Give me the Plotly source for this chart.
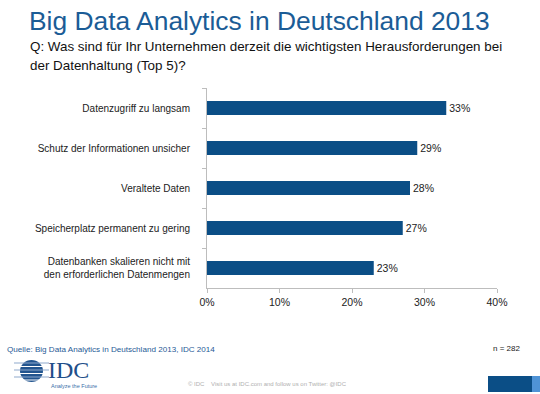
import plotly.graph_objects as go

categories = [
    "Datenzugriff zu langsam",
    "Schutz der Informationen unsicher",
    "Veraltete Daten",
    "Speicherplatz permanent zu gering",
    "Datenbanken skalieren nicht mit<br>den erforderlichen Datenmengen",
]
values = [33, 29, 28, 27, 23]
x_ticks = [0, 10, 20, 30, 40]
x_tick_labels = ["0%", "10%", "20%", "30%", "40%"]

W, H = 540, 394
ML, MR, MT, MB = 207, 43, 88, 106
PW, PH = W - ML - MR, H - MT - MB
BAR = "#0B4E86"
FONT = "Liberation Sans, Arial, sans-serif"
SERIF = "Liberation Serif"

fig = go.Figure()
fig.add_trace(go.Bar(
    x=values, y=categories, orientation="h",
    marker=dict(color=BAR, line=dict(width=0)),
    text=[f"{v}%" for v in values], textposition="outside",
    textfont=dict(size=10.5, color="#222222", family=FONT),
    cliponaxis=False, hoverinfo="skip",
))

def px(x):
    return (x - ML) / PW

def py(y):
    return (H - MB - y) / PH

def note(text, x, y, xanchor, size, color, family=FONT):
    return dict(text=text, x=px(x), y=py(y), xref="paper", yref="paper",
                xanchor=xanchor, yanchor="middle", showarrow=False,
                font=dict(size=size, color=color, family=family))

ann = [
    note("Big Data Analytics in Deutschland 2013", 27, 21, "left", 26.4, "#1B5C96"),
    note("Q: Was sind für Ihr Unternehmen derzeit die wichtigsten Herausforderungen bei",
         28, 47, "left", 13.4, "#111111"),
    note("der Datenhaltung (Top 5)?", 28, 66, "left", 13.4, "#111111"),
    note("Quelle: Big Data Analytics in Deutschland 2013, IDC 2014", 5, 349, "left", 8.1, "#1F5A96"),
    note("n = 282", 522, 348, "right", 8, "#222222"),
    note("IDC", 46, 370, "left", 24, "#1F4F8A", SERIF),
    note("Analyze the Future", 49, 386, "left", 5.5, "#3A6EA8"),
    note("© IDC    Visit us at IDC.com and follow us on Twitter: @IDC", 267, 384, "center", 6, "#B0B0B0"),
]

shapes = []
# globe logo
shapes.append(dict(type="circle", xref="paper", yref="paper",
                   x0=px(20), x1=px(43), y0=py(382), y1=py(360),
                   fillcolor="#23558F", line=dict(width=0)))
for i, yy in enumerate([363, 366.5, 370, 373.5, 377, 380]):
    shapes.append(dict(type="line", xref="paper", yref="paper",
                       x0=px(14), x1=px(49), y0=py(yy), y1=py(yy),
                       line=dict(color="#8FA9CC" if i % 2 == 0 else "#FFFFFF", width=1)))
# bottom-right blocks
shapes.append(dict(type="rect", xref="paper", yref="paper",
                   x0=px(488), x1=px(532), y0=py(392), y1=py(376),
                   fillcolor="#0B4E86", line=dict(width=0)))
shapes.append(dict(type="rect", xref="paper", yref="paper",
                   x0=px(532), x1=px(540), y0=py(392), y1=py(376),
                   fillcolor="#4F93D6", line=dict(width=0)))

fig.update_layout(
    width=W, height=H,
    margin=dict(l=ML, r=MR, t=MT, b=MB),
    paper_bgcolor="white", plot_bgcolor="white",
    showlegend=False, bargap=0.65,
    font=dict(family=FONT, size=11, color="#222222"),
    annotations=ann, shapes=shapes,
    xaxis=dict(range=[0, 40], tickvals=x_ticks, ticktext=x_tick_labels,
               showgrid=False, zeroline=False, showline=True, linecolor="#BDBDBD",
               linewidth=1, ticks="outside", ticklen=4, tickcolor="#BDBDBD",
               tickfont=dict(size=10.5, color="#222222"), fixedrange=True),
    yaxis=dict(autorange="reversed", showgrid=False, zeroline=False, showline=True,
               linecolor="#BDBDBD", linewidth=1, ticks="outside", ticklen=4,
               tickcolor="#BDBDBD", tickson="boundaries", ticklabelstandoff=14,
               tickfont=dict(size=10, color="#222222"), fixedrange=True),
)

fig.write_html("out.html", post_script="document.body.style.margin='0';",
               config={"displayModeBar": False})
